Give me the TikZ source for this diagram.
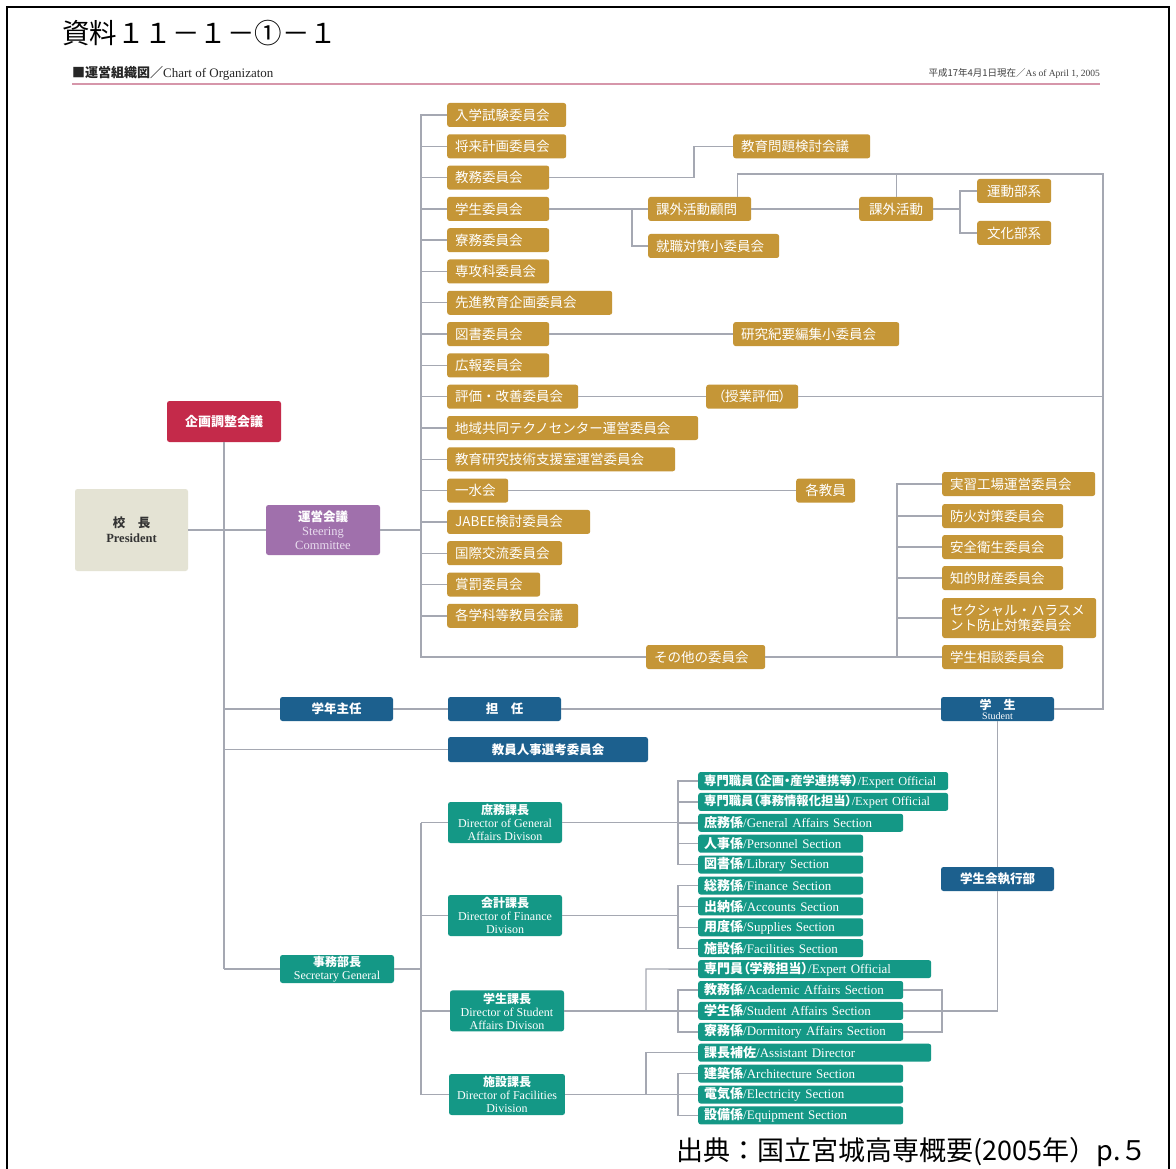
\documentclass[tikz,border=0pt]{standalone}
\usepackage{fontspec}
\setmainfont{Noto Sans CJK JP}
\newfontfamily\en{Liberation Serif}
\newfontfamily\pj[RawFeature=+palt]{Noto Sans CJK JP}
\definecolor{goldc}{RGB}{197,150,55}
\definecolor{linec}{RGB}{165,168,178}
\definecolor{crimc}{RGB}{196,42,74}
\definecolor{purpc}{RGB}{160,112,172}
\definecolor{beigec}{RGB}{228,227,212}
\definecolor{bluec}{RGB}{28,96,142}
\definecolor{tealc}{RGB}{20,152,134}
\definecolor{pinkc}{RGB}{214,150,170}
\definecolor{lavc}{RGB}{232,220,238}
\newcommand\myfs[1]{\fontsize{#1}{#1}\selectfont}
\newcommand\GB[6][]{\pgfmathsetmacro\mytw{#4-#3-16}\node[gold,text width=\mytw pt,#1] (#2) at (#3,#5) {#6};}
\newcommand\CB[7]{\pgfmathsetmacro\myx{(#3+#4)/2}\pgfmathsetmacro\myy{(#5+#6)/2}\pgfmathsetmacro\myw{#4-#3}\pgfmathsetmacro\myh{#6-#5}\node[#1,minimum width=\myw pt,minimum height=\myh pt] (#2) at (\myx,\myy) {#7};}
\newcommand\TB[6][]{\pgfmathsetmacro\mytw{#3-698-12}\node[tealsm,text width=\mytw pt,#1] (#2) at (698,#4) {\mbox{{\pj\bfseries #5}{\en #6}}};}
\begin{document}
\begin{tikzpicture}[x=1pt,y=-1pt,
  ln/.style={draw=linec,line width=1.4pt},
  bx/.style={rounded corners=2.5pt,inner xsep=8pt,inner ysep=0pt,text=white},
  gold/.style={bx,fill=goldc,minimum height=24pt,anchor=west,align=left,font=\fontsize{13.5}{15}\selectfont},
  bluebox/.style={bx,fill=bluec,align=center,font=\fontsize{12.5}{13}\selectfont\bfseries},
  tealhead/.style={bx,fill=tealc,align=center,font=\fontsize{12}{13}\selectfont},
  tealsm/.style={bx,fill=tealc,minimum height=18pt,anchor=west,align=left,inner xsep=6pt,font=\fontsize{13}{13}\selectfont},
  crimbox/.style={bx,fill=crimc,align=center,font=\fontsize{13}{14}\selectfont\bfseries},
  purpbox/.style={bx,fill=purpc,align=center,font=\fontsize{12.5}{14}\selectfont},
  beigebox/.style={bx,fill=beigec,text=black!80,align=center,font=\fontsize{12.5}{15}\selectfont}
]
\useasboundingbox (0,0) rectangle (1176,1169);
\fill[white] (0,0) rectangle (1176,1169);
% frame
\draw[black,line width=1.5pt] (7,1172) -- (7,7) -- (1169,7) -- (1169,1172);
% header
\node[anchor=west,font=\myfs{27.5},inner sep=0] (title) at (62,33) {資料１１－１－①－１};
\node[anchor=west,font=\myfs{13},inner sep=0,text=black!85] (sub) at (72,73) {{\bfseries ■運営組織図／}{\en Chart of Organizaton}};
\node[anchor=east,font=\myfs{9.5},inner sep=0,text=black!75] (date) at (1100,73) {平成17年4月1日現在／{\en As of April 1, 2005}};
\coordinate (R1) at (72,84);
\coordinate (R2) at (1100,84);
\draw[pinkc,line width=2.2pt] (R1) -- (R2);
\node[anchor=east,font=\myfs{27},inner sep=0] (src) at (1148,1152) {出典：国立宮城高専概要(2005年）p.５};

% left boxes
\CB{beigebox}{pres}{75}{188}{489}{571}{{\bfseries 校　長}\\{\en\bfseries President}}
\CB{crimbox}{kik}{167}{281}{401}{442}{企画調整会議}
\CB{purpbox}{unei}{266}{380}{505}{555}{{\bfseries 運営会議}\\{\en\color{lavc}Steering}\\{\en\color{lavc}Committee}}

% gold column
\GB{g1}{447}{566}{115}{入学試験委員会}
\GB{g2}{447}{566}{146.3}{将来計画委員会}
\GB{g3}{447}{549}{177.6}{教務委員会}
\GB{g4}{447}{549}{208.9}{学生委員会}
\GB{g5}{447}{549}{240.2}{寮務委員会}
\GB{g6}{447}{549}{271.5}{専攻科委員会}
\GB{g7}{447}{612}{302.8}{先進教育企画委員会}
\GB{g8}{447}{549}{334.1}{図書委員会}
\GB{g9}{447}{549}{365.4}{広報委員会}
\GB{g10}{447}{578}{396.7}{評価・改善委員会}
\GB{g11}{447}{698}{428}{地域共同テクノセンター運営委員会}
\GB{g12}{447}{675}{459.3}{教育研究技術支援室運営委員会}
\GB{g13}{447}{508}{490.6}{一水会}
\GB{g14}{447}{590}{521.9}{JABEE検討委員会}
\GB{g15}{447}{562}{553.2}{国際交流委員会}
\GB{g16}{447}{540}{584.5}{賞罰委員会}
\GB{g17}{447}{578}{615.8}{各学科等教員会議}

\GB{k1}{733}{870}{146.3}{教育問題検討会議}
\GB{k2}{648}{751}{208.9}{課外活動顧問}
\GB{k3}{648}{779}{246}{就職対策小委員会}
\GB[align=center]{k4}{859}{933}{208.9}{課外活動}
\GB[align=center]{k5}{977}{1051}{191}{運動部系}
\GB[align=center]{k6}{977}{1051}{233}{文化部系}
\GB{k7}{733}{899}{334.1}{研究紀要編集小委員会}
\GB[align=center]{k8}{706}{798}{396.7}{{\pj （授業評価）}}
\GB[align=center]{k9}{796}{855}{490.6}{各教員}
\GB{k10}{942}{1095}{484}{実習工場運営委員会}
\GB{k11}{942}{1063}{516}{防火対策委員会}
\GB{k12}{942}{1063}{547}{安全衛生委員会}
\GB{k13}{942}{1063}{578}{知的財産委員会}
\GB[minimum height=40pt]{k14}{942}{1096}{618}{セクシャル・ハラスメ\\ント防止対策委員会}
\GB{k15}{942}{1063}{657}{学生相談委員会}
\GB{oth}{646}{765}{657}{その他の委員会}

% blue
\CB{bluebox}{gak}{280}{393}{697}{721}{学年主任}
\CB{bluebox}{tan}{448}{561}{697}{721}{担　任}
\CB{bluebox,font=\fontsize{12}{10}\selectfont\bfseries}{stu}{941}{1054}{697}{721}{学　生\\{\en\mdseries\myfs{10}Student}}
\CB{bluebox}{jin}{448}{648}{737}{762}{教員人事選考委員会}
\CB{bluebox}{skk}{941}{1054}{867}{891}{学生会執行部}

% teal heads
\CB{tealhead}{jimu}{280}{394}{955}{983}{{\bfseries 事務部長}\\{\en Secretary General}}
\CB{tealhead}{shomu}{448}{562}{802}{843}{{\bfseries 庶務課長}\\{\en Director of General}\\{\en Affairs Divison}}
\CB{tealhead}{kaikei}{448}{562}{895}{936}{{\bfseries 会計課長}\\{\en Director of Finance}\\{\en Divison}}
\CB{tealhead}{gksei}{450}{564}{990.4}{1031.4}{{\bfseries 学生課長}\\{\en Director of Student}\\{\en Affairs Divison}}
\CB{tealhead}{shis}{450}{564}{1074}{1115}{{\bfseries 施設課長}\\{\en Director of Facilities}\\{\en Division}}

% teal sections
\TB[font=\fontsize{12.3}{13}\selectfont]{t1}{948}{781}{専門職員（企画・産学連携等）}{/Expert Official}
\TB[font=\fontsize{12.3}{13}\selectfont]{t2}{948}{801.9}{専門職員（事務情報化担当）}{/Expert Official}
\TB{t3}{903}{822.8}{庶務係}{/General Affairs Section}
\TB{t4}{863}{843.7}{人事係}{/Personnel Section}
\TB{t5}{863}{864.6}{図書係}{/Library Section}
\TB{t6}{863}{885.5}{総務係}{/Finance Section}
\TB{t7}{863}{906.4}{出納係}{/Accounts Section}
\TB{t8}{863}{927.3}{用度係}{/Supplies Section}
\TB{t9}{863}{948.2}{施設係}{/Facilities Section}
\TB{t10}{931}{969.1}{専門員（学務担当）}{/Expert Official}
\TB{t11}{903}{990}{教務係}{/Academic Affairs Section}
\TB{t12}{903}{1010.9}{学生係}{/Student Affairs Section}
\TB{t13}{903}{1031.8}{寮務係}{/Dormitory Affairs Section}
\TB{t14}{931}{1052.7}{課長補佐}{/Assistant Director}
\TB{t15}{903}{1073.6}{建築係}{/Architecture Section}
\TB{t16}{903}{1094.5}{電気係}{/Electricity Section}
\TB{t17}{903}{1115.4}{設備係}{/Equipment Section}

% ---------- connectors ----------
\coordinate (LT) at (421,115);
\draw[ln] (g1.west) -- (g1.west -| LT) -- (oth.west -| LT) -- (oth.west);
\foreach \n in {g2,g3,g4,g5,g6,g7,g8,g9,g10,g11,g12,g13,g14,g15,g16,g17}
  \draw[ln] (\n.west) -- (\n.west -| LT);
\draw[ln] (unei.east) -- (unei.east -| LT);
\draw[ln] (pres.east) -- (unei.west);
\draw[ln] (kik.south) -- (kik.south |- jimu.west);
\draw[ln] (gak.west) -- (gak.west -| kik.south);
\draw[ln] (jin.west) -- (jin.west -| kik.south);
\draw[ln] (jimu.west) -- (jimu.west -| kik.south);
% kyomu
\draw[ln] (g3.east) -| ([xshift=-39pt]k1.west) -- (k1.west);
% gakusei
\draw[ln] (g4.east) -- (k2.west);
\draw[ln] ([xshift=-16pt]k2.west) |- (k3.west);
\draw[ln] (k2.east) -- (k4.west);
\coordinate (RT) at (1103,174);
\coordinate (RB) at (1103,709);
\draw[ln] ([xshift=-14pt]k2.north east) |- (RT) -- (RB) -- (stu.east);
\draw[ln] (k4.north) -- (k4.north |- RT);
\coordinate (B1) at (960,191);
\draw[ln] (k4.east) -- (k4.east -| B1);
\draw[ln] (k5.west) -- (B1) |- (k6.west);
\draw[ln] (g8.east) -- (k7.west);
\draw[ln] (g10.east) -- (k8.west);
\draw[ln] (k8.east) -- (k8.east -| RT);
\draw[ln] (g13.east) -- (k9.west);
\coordinate (B2) at (897,484);
\draw[ln] (k10.west) -- (B2) |- (k15.west);
\foreach \n in {k11,k12,k13,k14}
  \draw[ln] (\n.west) -- (\n.west -| B2);
\draw[ln] (oth.east) -- (oth.east -| B2);
% blue
\draw[ln] (gak.east) -- (tan.west);
\draw[ln] (tan.east) -- (stu.west);
\draw[ln] (stu.south) -- (skk.north);
% teal trunk
\coordinate (T1) at (421,822);
\draw[ln] (shomu.west -| T1) -- (shis.west -| T1);
\draw[ln] (jimu.east) -- (jimu.east -| T1);
\foreach \n in {shomu,kaikei,gksei,shis}
  \draw[ln] (\n.west) -- (\n.west -| T1);
\coordinate (C1) at (678,781);
\coordinate (C2) at (646,969);
\coordinate (C3) at (942,990);
\draw[ln] (t1.west) -- (C1) |- (t5.west);
\foreach \n in {t2,t3,t4} \draw[ln] (\n.west) -- (\n.west -| C1);
\draw[ln] (shomu.east) -- (shomu.east -| C1);
\draw[ln] (t6.west) -- (t6.west -| C1) |- (t9.west);
\foreach \n in {t7,t8} \draw[ln] (\n.west) -- (\n.west -| C1);
\draw[ln] (kaikei.east) -- (kaikei.east -| C1);
\draw[ln] (gksei.east) -- (t12.west);
\draw[ln] (t10.west) -- (C2) -- (t12.west -| C2);
\draw[ln] (t11.west) -- (t11.west -| C1) |- (t13.west);
\draw[ln] (t11.east) -- (C3) |- (t13.east);
\draw[ln] (t12.east) -| (skk.south);
\draw[ln] (shis.east) -- (t16.west);
\draw[ln] (t14.west) -- (t14.west -| C2) -- (t16.west -| C2);
\draw[ln] (t15.west) -- (t15.west -| C1) |- (t17.west);
\end{tikzpicture}
\end{document}
